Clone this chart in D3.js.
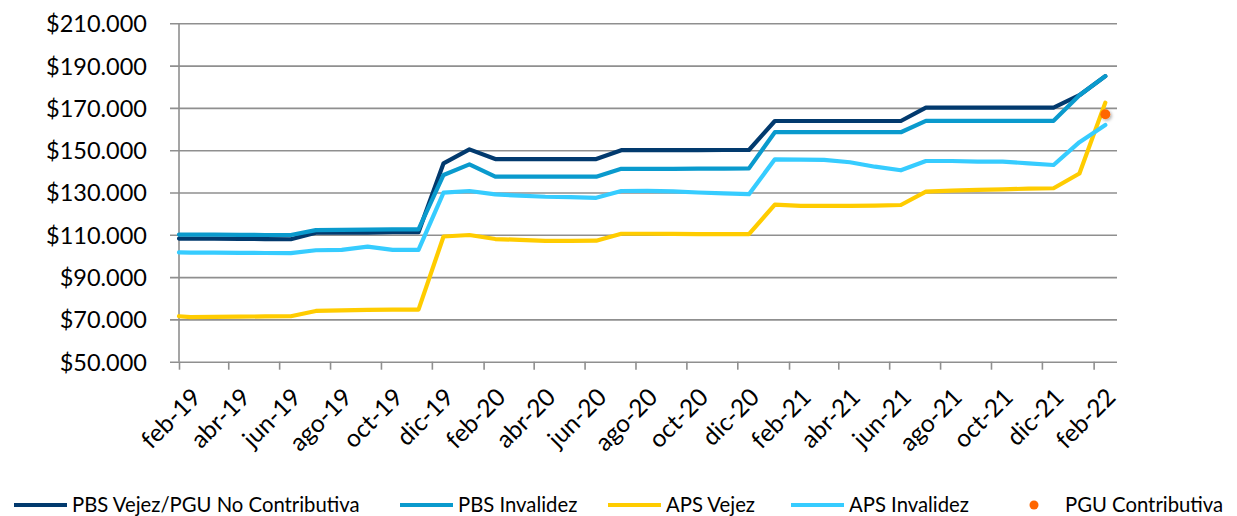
<!DOCTYPE html>
<html>
<head>
<meta charset="utf-8">
<script src="https://cdn.jsdelivr.net/npm/d3@7"></script>
<style>
  html, body { margin: 0; padding: 0; background: #fff; }
  svg { display: block; }
  text { font-family: Lato, "Open Sans", sans-serif; fill: #000; }
</style>
</head>
<body>
<svg id="chart" width="1237" height="516"></svg>
<script>
// ---------------- DATA ----------------
const dates = [
  "2019-02-01",
  "2019-02-15","2019-03-15","2019-04-15","2019-05-15","2019-06-15","2019-07-15",
  "2019-08-15","2019-09-15","2019-10-15","2019-11-15","2019-12-15",
  "2020-01-15","2020-02-15","2020-03-15","2020-04-15","2020-05-15","2020-06-15",
  "2020-07-15","2020-08-15","2020-09-15","2020-10-15","2020-11-15","2020-12-15",
  "2021-01-15","2021-02-15","2021-03-15","2021-04-15","2021-05-15","2021-06-15",
  "2021-07-15","2021-08-15","2021-09-15","2021-10-15","2021-11-15","2021-12-15",
  "2022-01-15","2022-02-15"
];

const pbsVejez = [
  108200,
  108200,108200,108100,108000,107900,111000,111000,111000,111200,111200,143800,
  150400,145800,145800,145800,145800,145800,150000,150000,150000,150000,150100,150100,
  163800,163800,163800,163800,163800,163800,170100,170100,170100,170100,170100,170100,
  176000,185000
];
const pbsInvalidez = [
  110100,
  110100,110100,110000,109900,109900,112200,112300,112400,112600,112600,138300,
  143300,137500,137500,137500,137500,137500,141200,141200,141200,141300,141300,141400,
  158500,158500,158500,158500,158500,158500,163900,163900,163900,163900,163900,163900,
  176000,185000
];
const apsVejez = [
  71500,
  71100,71200,71300,71400,71500,74000,74300,74500,74600,74600,109200,
  109900,108000,107600,107100,107100,107200,110500,110500,110400,110300,110300,110300,
  124300,123700,123700,123700,123800,124100,130400,130900,131200,131500,131800,132000,
  139000,172500
];
const apsInvalidez = [
  101700,
  101600,101600,101500,101400,101300,102700,102900,104400,102900,102900,129900,
  130700,129100,128500,128000,127800,127500,130700,130800,130500,130000,129600,129200,
  145700,145500,145400,144300,142200,140500,144900,144900,144600,144600,143800,143000,
  153800,161900
];
const pguContributiva = [{ date: "2022-02-15", value: 167000 }];

const tickDates = [
  "2019-02-01","2019-04-01","2019-06-01","2019-08-01","2019-10-01","2019-12-01",
  "2020-02-01","2020-04-01","2020-06-01","2020-08-01","2020-10-01","2020-12-01",
  "2021-02-01","2021-04-01","2021-06-01","2021-08-01","2021-10-01","2021-12-01",
  "2022-02-01"
];
const tickLabels = [
  "feb-19","abr-19","jun-19","ago-19","oct-19","dic-19",
  "feb-20","abr-20","jun-20","ago-20","oct-20","dic-20",
  "feb-21","abr-21","jun-21","ago-21","oct-21","dic-21",
  "feb-22"
];
const yTicks = [50000,70000,90000,110000,130000,150000,170000,190000,210000];

const seriesNames = ["PBS Vejez/PGU No Contributiva","PBS Invalidez","APS Vejez","APS Invalidez","PGU Contributiva"];
const seriesColors = ["#023A6E","#0A9ACD","#FFCC00","#36CCFF","#FF6600"];

// ---------------- LAYOUT ----------------
const svg = d3.select("#chart");
const parse = d3.utcParse("%Y-%m-%d");
const plot = { left: 179, right: 1117, top: 23.3, bottom: 361.7 };

const x = d3.scaleUtc()
  .domain([parse("2019-02-01"), parse("2022-03-01")])
  .range([plot.left, plot.right]);
const y = d3.scaleLinear()
  .domain([50000, 210000])
  .range([plot.bottom, plot.top]);

const loc = d3.formatLocale({ decimal: ",", thousands: ".", grouping: [3], currency: ["$", ""] });
const fmt = loc.format("$,.0f");

const gridColor = "#8f8f8f";

// Y gridlines + labels
const yAxis = d3.axisLeft(y)
  .tickValues(yTicks)
  .tickSize(plot.right - plot.left + 9)
  .tickFormat(fmt);
const gy = svg.append("g")
  .attr("transform", `translate(${plot.right},0)`)
  .call(yAxis);
gy.select(".domain").remove();
gy.selectAll(".tick line").attr("stroke", gridColor).attr("stroke-width", 1.6);
gy.selectAll(".tick text")
  .attr("x", -(plot.right - 147))
  .attr("dy", "0.36em")
  .style("font-size", "23.5px")
  .style("font-family", "Lato, sans-serif")
  .attr("fill", "#000");
gy.attr("font-size", null).attr("font-family", null);

// Y axis line
svg.append("line")
  .attr("x1", plot.left).attr("x2", plot.left)
  .attr("y1", plot.top).attr("y2", plot.bottom)
  .attr("stroke", gridColor).attr("stroke-width", 1.6);

// X axis
const xAxis = d3.axisBottom(x)
  .tickValues(tickDates.map(parse))
  .tickSize(8)
  .tickSizeOuter(0)
  .tickFormat((d, i) => tickLabels[i]);
const gx = svg.append("g")
  .attr("transform", `translate(0,${plot.bottom})`)
  .call(xAxis);
gx.select(".domain").remove();
gx.selectAll(".tick line").attr("stroke", gridColor).attr("stroke-width", 1.6);
gx.selectAll(".tick text")
  .attr("y", 0).attr("dy", 0)
  .attr("text-anchor", "end")
  .attr("transform", "translate(23,37) rotate(-45)")
  .style("font-size", "24.5px")
  .style("font-family", "Lato, sans-serif")
  .attr("fill", "#000");
gx.attr("font-size", null).attr("font-family", null);

// ---------------- LINES ----------------
const lineData = [pbsVejez, pbsInvalidez, apsVejez, apsInvalidez];
const line = d3.line()
  .x((d, i) => x(parse(dates[i])))
  .y(d => y(d));

const gl = svg.append("g");
lineData.forEach((vals, si) => {
  gl.append("path")
    .datum(vals)
    .attr("d", line)
    .attr("fill", "none")
    .attr("stroke", seriesColors[si])
    .attr("stroke-width", 4.2)
    .attr("stroke-linejoin", "round")
    .attr("stroke-linecap", "round");
});

// shadow filter for the dot
const defs = svg.append("defs");
const f = defs.append("filter").attr("id", "sh").attr("x", "-50%").attr("y", "-50%").attr("width", "200%").attr("height", "200%");
f.append("feDropShadow").attr("dx", 1.5).attr("dy", 1.5).attr("stdDeviation", 1.5).attr("flood-color", "#000").attr("flood-opacity", 0.3);

svg.append("g").selectAll("circle")
  .data(pguContributiva)
  .join("circle")
  .attr("cx", d => x(parse(d.date)))
  .attr("cy", d => y(d.value))
  .attr("r", 5)
  .attr("fill", seriesColors[4])
  .attr("filter", "url(#sh)");

// ---------------- LEGEND ----------------
const legendX = [14, 400, 608, 791, 1007];
const legendY = 505;
const lg = svg.append("g");
seriesNames.forEach((name, i) => {
  const g = lg.append("g").attr("transform", `translate(${legendX[i]},${legendY})`);
  if (i < 4) {
    g.append("line")
      .attr("x1", 0).attr("x2", 53)
      .attr("y1", 0).attr("y2", 0)
      .attr("stroke", seriesColors[i])
      .attr("stroke-width", 4);
  } else {
    g.append("circle")
      .attr("cx", 27).attr("cy", 0).attr("r", 4.5)
      .attr("fill", seriesColors[i]);
  }
  g.append("text")
    .attr("x", 58).attr("y", 0).attr("dy", "0.35em")
    .style("font-size", "20.3px")
    .text(name);
});
</script>
</body>
</html>
